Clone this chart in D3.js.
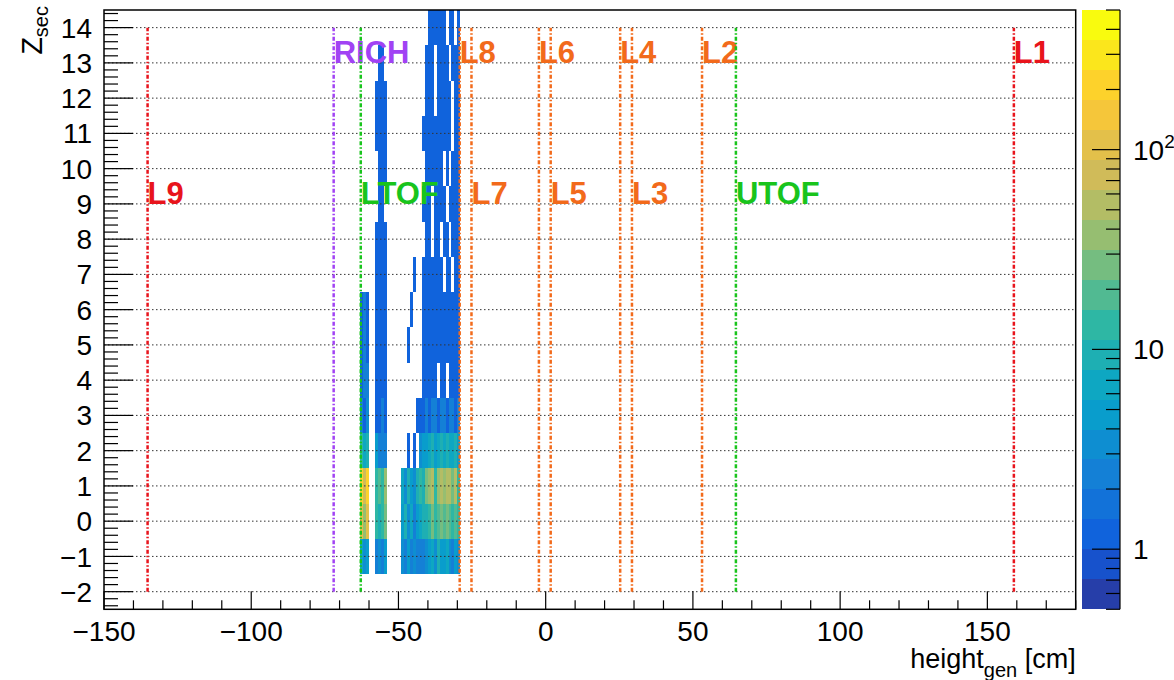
<!DOCTYPE html>
<html><head><meta charset="utf-8">
<script src="https://cdn.jsdelivr.net/npm/d3@7/dist/d3.min.js"></script>
<style>
body{margin:0;background:#fff;}
svg{display:block;font-family:"Liberation Sans",Arial,Helvetica,sans-serif;}
</style></head><body>
<svg id="c" width="1174" height="680"></svg>
<script>
// ---------------- data ----------------
const xBinLow = [-63,-62,-61,-60,-59,-58,-57,-56,-55,-54,-53,-52,-51,-50,-49,-48,-47,-46,-45,-44,-43,-42,-41,-40,-39,-38,-37,-36,-35,-34,-33,-32,-31,-30];
const binWidth = 1;
const yRowCenter = [14,13,12,11,10,9,8,7,6,5,4,3,2,1,0,-1];
const row14 = [0,0,0,0,0,0,0,0,0,0,0,0,0,0,0,0,0,0,0,0,0,0,0,1,1,1,1,1,1,0,1,1,0,1];
const row13 = [0,0,0,0,0,0,1,1,0,0,0,0,0,0,0,0,0,0,0,0,0,0,1,1,1,0,1,1,1,1,0,1,1,1];
const row12 = [0,0,0,0,0,1,1,1,1,0,0,0,0,0,0,0,0,0,0,0,0,0,1,1,1,0,1,1,1,1,1,0,1,1];
const row11 = [0,0,0,0,0,1,1,1,1,0,0,0,0,0,0,0,0,0,0,0,0,1,1,1,1,1,1,1,1,1,1,0,1,1];
const row10 = [0,0,0,0,0,0,1,1,1,0,0,0,0,0,0,0,0,0,0,0,0,0,1,1,1,1,1,1,0,1,0,1,1,1];
const row9  = [0,0,0,0,0,0,1,1,0,0,0,0,0,0,0,0,0,0,0,0,0,1,1,1,0,1,1,1,1,0,1,1,1,1];
const row8  = [0,0,0,0,0,1,1,1,1,0,0,0,0,0,0,0,0,0,0,0,0,0,1,1,0,1,1,0,1,1,0,1,1,1];
const row7  = [0,0,0,0,0,1,1,1,1,0,0,0,0,0,0,0,0,0,1,0,0,1,1,1,1,1,1,1,0,1,1,0,1,1];
const row6  = [1,2,1,0,0,1,1,1,1,0,0,0,0,0,0,0,0,1,0,0,0,1,1,1,1,1,1,1,1,1,1,1,1,1];
const row5  = [1,2,1,0,0,1,1,1,1,0,0,0,0,0,0,0,1,0,0,0,0,1,1,1,1,1,1,1,1,1,1,1,1,1];
const row4  = [1,2,2,0,0,1,1,1,1,0,0,0,0,0,0,0,0,0,0,0,0,1,1,1,1,1,0,1,1,0,1,1,1,1];
const row3  = [2,1,3,0,0,1,1,2,1,0,0,0,0,0,0,0,0,0,0,1,1,1,2,1,2,2,1,2,2,1,2,2,1,2];
const row2  = [12,6,10,0,0,5,2,2,2,0,0,0,0,0,0,0,1,0,1,0,3,4,5,6,8,5,7,9,6,8,7,6,8,5];
const row1  = [200,80,250,0,0,12,20,15,40,0,0,0,0,0,6,3,8,5,3,8,12,8,25,40,50,15,40,55,35,60,45,30,50,15];
const row0  = [100,40,120,0,0,12,10,15,30,0,0,0,0,0,5,8,3,6,2,5,6,10,8,15,25,12,20,30,18,25,20,15,22,12];
const rowM1 = [6,3,5,0,0,2,3,2,4,0,0,0,0,0,3,2,4,2,3,2,2,2,3,5,6,3,8,5,4,6,3,2,4,3];
const rows = [row14,row13,row12,row11,row10,row9,row8,row7,row6,row5,row4,row3,row2,row1,row0,rowM1];

const layerNames = ["L9","RICH","LTOF","L8","L7","L6","L5","L4","L3","L2","UTOF","L1"];
const layerZ     = [-135.2,-72.0,-62.8,-29.2,-25.2,-2.3,1.7,25.3,29.3,53.1,64.6,159.0];
const layerType  = ["red","purple","green","orange","orange","orange","orange","orange","orange","orange","green","red"];
const labelLevel = [9,13,9,13,9,13,9,13,9,13,9,13];

const xTicks = [-150,-100,-50,0,50,100,150];
const yTicks = [-2,-1,0,1,2,3,4,5,6,7,8,9,10,11,12,13,14];
const zTicks = [1,10,100];
const zRange = [0.5,500];

// ---------------- layout ----------------
const svg = d3.select("#c");
const L=104, R=1075.7, T=10, B=609.3;
const x = d3.scaleLinear().domain([-150,180]).range([L,R]);
const y = d3.scaleLinear().domain([-2.5,14.5]).range([B,T]);
const zNorm = d3.scaleLog().domain(zRange).range([0,1]);
const nLevels = 20;

const stops=[0,0.125,0.25,0.375,0.5,0.625,0.75,0.875,1];
const bR=[0.2082,0.0592,0.0780,0.0232,0.1802,0.5301,0.8186,0.9956,0.9764];
const bG=[0.1664,0.3599,0.5041,0.6419,0.7178,0.7492,0.7328,0.7862,0.9832];
const bB=[0.5293,0.8684,0.8385,0.7914,0.6425,0.4662,0.3499,0.1968,0.0539];
function bird(t){
  t=Math.max(0,Math.min(1,t));
  let i=0; while(i<stops.length-2 && t>stops[i+1]) i++;
  const f=(t-stops[i])/(stops[i+1]-stops[i]);
  const c=(a)=>Math.round(255*(a[i]+f*(a[i+1]-a[i])));
  return `rgb(${c(bR)},${c(bG)},${c(bB)})`;
}
function bandColor(band){ return bird((band+0.99)/nLevels); }
function colorFor(v){
  let band=Math.floor(zNorm(v)*nLevels);
  band=Math.max(0,Math.min(nLevels-1,band));
  return bandColor(band);
}
const lineColor = {red:"#e8141c", purple:"#a142f4", green:"#19c41c", orange:"#f26a1b"};

// ---------------- histogram ----------------
const cells=[];
rows.forEach((r,i)=>r.forEach((v,k)=>{ if(v>0) cells.push({yc:yRowCenter[i], x0:xBinLow[k], v}); }));
svg.append("g").selectAll("rect").data(cells).join("rect")
  .attr("x",d=>x(d.x0)).attr("width",d=>x(d.x0+binWidth)-x(d.x0))
  .attr("y",d=>y(d.yc+0.5)).attr("height",d=>y(d.yc-0.5)-y(d.yc+0.5))
  .attr("fill",d=>colorFor(d.v)).attr("shape-rendering","crispEdges");

// ---------------- grid ----------------
svg.append("g").selectAll("line").data(yTicks).join("line")
  .attr("x1",L).attr("x2",R).attr("y1",d=>y(d)).attr("y2",d=>y(d))
  .attr("stroke","#333").attr("stroke-width",1).attr("stroke-dasharray","1.5,2.5");

// ---------------- layer lines & labels ----------------
const lg=svg.append("g");
layerZ.forEach((z,i)=>{
  lg.append("line").attr("x1",x(z)).attr("x2",x(z)).attr("y1",y(-2)).attr("y2",y(14))
    .attr("stroke",lineColor[layerType[i]]).attr("stroke-width",2.5).attr("stroke-dasharray","4,2,1.5,2");
  lg.append("text").attr("x",x(z)).attr("y",y(labelLevel[i]))
    .attr("fill",lineColor[layerType[i]]).attr("font-size",31).attr("font-weight","bold")
    .text(layerNames[i]);
});

// ---------------- axes ----------------
const ax=svg.append("g");
ax.append("rect").attr("x",L).attr("y",T).attr("width",R-L).attr("height",B-T)
  .attr("fill","none").attr("stroke","#000").attr("stroke-width",1.5);
const xMinor=d3.range(-150,181,10);
xMinor.forEach(v=>{
  const major = v%50===0;
  ax.append("line").attr("x1",x(v)).attr("x2",x(v)).attr("y1",B).attr("y2",B-(major?18:9))
    .attr("stroke","#000").attr("stroke-width",1.2);
});
ax.selectAll("text.xl").data(xTicks).join("text").attr("class","xl")
  .attr("x",d=>x(d)).attr("y",641).attr("text-anchor","middle").attr("font-size",28)
  .text(d=>d<0?"\u2212"+Math.abs(d):d);
const yMinorStep=1/5;
for(let v=-2.4; v<=14.5+1e-6; v+=yMinorStep){
  const vv=Math.round(v*1000)/1000;
  const major=Math.abs(vv-Math.round(vv))<1e-6;
  ax.append("line").attr("x1",L).attr("x2",L+(major?29:14)).attr("y1",y(vv)).attr("y2",y(vv))
    .attr("stroke","#000").attr("stroke-width",1.2);
}
ax.selectAll("text.yl").data(yTicks).join("text").attr("class","yl")
  .attr("x",92).attr("y",d=>y(d)).attr("dy","0.36em").attr("text-anchor","end").attr("font-size",28)
  .text(d=>d<0?"\u2212"+Math.abs(d):d);

// axis titles
const yt=svg.append("text").attr("transform","translate(42,6) rotate(-90)").attr("text-anchor","end").attr("font-size",29);
yt.append("tspan").text("Z");
yt.append("tspan").attr("font-size",20).attr("dy",6).text("sec");
const xt=svg.append("text").attr("x",R).attr("y",668).attr("text-anchor","end").attr("font-size",27);
xt.append("tspan").text("height");
xt.append("tspan").attr("font-size",20).attr("dy",9).text("gen");
xt.append("tspan").attr("dy",-9).text(" [cm]");

// ---------------- colorbar ----------------
const CL=1081.7, CR=1120;
const yz=d3.scaleLog().domain(zRange).range([B,T]);
const lz0=Math.log10(zRange[0]), lz1=Math.log10(zRange[1]);
const bands=d3.range(nLevels).map(i=>({i, lo:Math.pow(10,lz0+(lz1-lz0)*i/nLevels), hi:Math.pow(10,lz0+(lz1-lz0)*(i+1)/nLevels)}));
svg.append("g").selectAll("rect").data(bands).join("rect")
  .attr("x",CL).attr("width",CR-CL).attr("y",d=>yz(d.hi)).attr("height",d=>yz(d.lo)-yz(d.hi))
  .attr("fill",d=>bandColor(d.i)).attr("shape-rendering","crispEdges");
const cb=svg.append("g");
cb.append("line").attr("x1",CR).attr("x2",CR).attr("y1",T).attr("y2",B).attr("stroke","#000").attr("stroke-width",1.2);
const zMinor=[];
[0.1,1,10,100].forEach(d=>{for(let m=1;m<=9;m++){const v=d*m; if(v>=zRange[0]&&v<=zRange[1]) zMinor.push(v);}});
zMinor.forEach(v=>{
  const major=zTicks.includes(v);
  cb.append("line").attr("x1",CR).attr("x2",CR-(major?28:14)).attr("y1",yz(v)).attr("y2",yz(v))
    .attr("stroke","#000").attr("stroke-width",1.2);
});
zTicks.forEach(v=>{
  const t=cb.append("text").attr("x",1133).attr("y",yz(v)).attr("dy","0.36em").attr("font-size",28);
  if(v===100){ t.append("tspan").text("10"); t.append("tspan").attr("font-size",19).attr("dy",-12).text("2"); }
  else t.text(v);
});
</script>
</body></html>
